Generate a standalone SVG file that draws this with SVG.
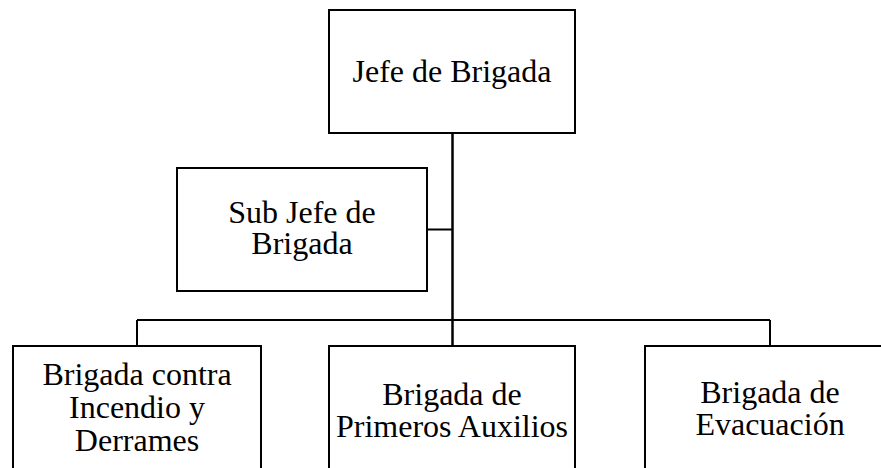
<svg xmlns="http://www.w3.org/2000/svg" width="881" height="468" viewBox="0 0 881 468">
<style>
.box{fill:#fff;stroke:#000;stroke-width:2}
.t{font-family:"Liberation Serif","Times New Roman",serif;font-size:32px;fill:#000;text-anchor:middle}
.c{stroke:#000;stroke-width:2;fill:none}
</style>
<rect width="881" height="468" fill="#fff"/>
<g id="connectors">
<line class="c" x1="452.5" y1="133" x2="452.5" y2="346" style="stroke-width:2.5"/>
<line class="c" x1="427" y1="229.5" x2="452.5" y2="229.5"/>
<line class="c" x1="137" y1="320" x2="770" y2="320"/>
<line class="c" x1="137" y1="320" x2="137" y2="346"/>
<line class="c" x1="770" y1="320" x2="770" y2="346"/>
</g>
<g id="jefe">
<rect class="box" x="329" y="10" width="246" height="123"/>
<text class="t" x="452" y="82">Jefe de Brigada</text>
</g>
<g id="subjefe">
<rect class="box" x="177" y="168" width="250" height="123"/>
<text class="t" x="302" y="223">Sub Jefe de</text>
<text class="t" x="302" y="254">Brigada</text>
</g>
<g id="incendio">
<rect class="box" x="13" y="346" width="248" height="140"/>
<text class="t" x="137" y="385">Brigada contra</text>
<text class="t" x="137" y="418">Incendio y</text>
<text class="t" x="137" y="451">Derrames</text>
</g>
<g id="auxilios">
<rect class="box" x="329" y="346" width="246" height="140"/>
<text class="t" x="452" y="405">Brigada de</text>
<text class="t" x="452" y="437">Primeros Auxilios</text>
</g>
<g id="evacuacion">
<rect class="box" x="645" y="346" width="250" height="140"/>
<text class="t" x="770" y="403">Brigada de</text>
<text class="t" x="770" y="435">Evacuación</text>
</g>
</svg>
